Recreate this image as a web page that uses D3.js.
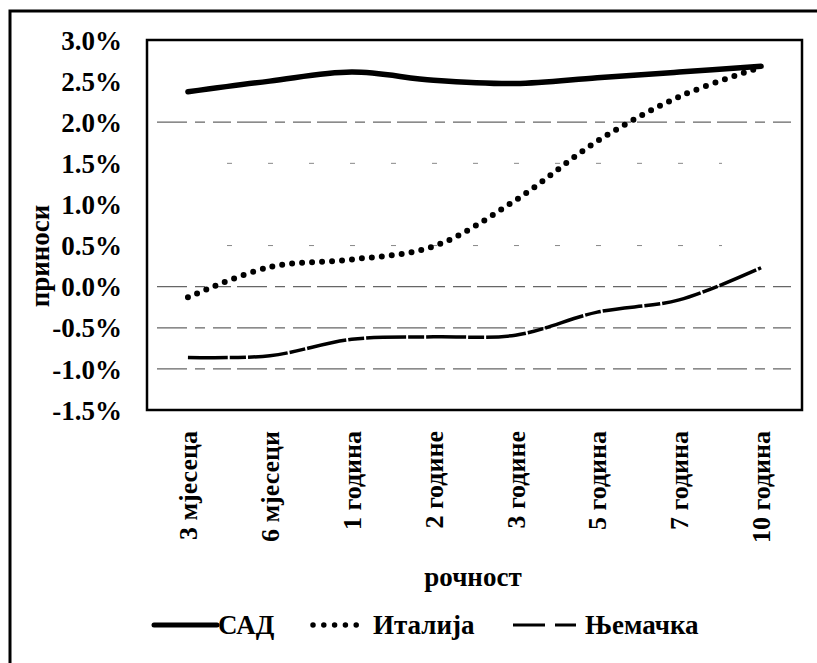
<!DOCTYPE html>
<html lang="sr">
  <head>
    <meta charset="utf-8">
    <title>prinosi</title>
    <script src="https://d3js.org/d3.v7.min.js"></script>
    <style>
      body { margin: 0; background: #fff; overflow: hidden; }
      svg { display: block; }
      text { font-family: "Liberation Serif", "Times New Roman", serif; fill: #000; }
    </style>
  </head>
  <body>
  <script>

  // data (yields in %)
  var maturities = ["3 мјесеца", "6 мјесеци", "1 година", "2 године", "3 године", "5 година", "7 година", "10 година"];
  var usa     = [2.37, 2.50, 2.61, 2.51, 2.47, 2.54, 2.61, 2.68];
  var italy   = [-0.13, 0.24, 0.33, 0.49, 1.05, 1.77, 2.31, 2.67];
  var germany = [-0.86, -0.84, -0.64, -0.61, -0.59, -0.31, -0.16, 0.23];
  var yTicks  = [3.0, 2.5, 2.0, 1.5, 1.0, 0.5, 0.0, -0.5, -1.0, -1.5];
  var seriesNames = ["САД", "Италија", "Њемачка"];

  var w = 817;
  var h = 663;
  var margin = {top: 40, right: 15, bottom: 253, left: 147};
  var innerWidth = w - margin.left - margin.right;
  var innerHeight = h - margin.top - margin.bottom;

  var svg = d3.select("body")
    .append("svg")
      .attr("width", w)
      .attr("height", h);

  // outer frame (cut off at the right and bottom in the scan)
  svg.append("path")
      .attr("d", "M10," + h + " L10,11 L" + w + ",11")
      .attr("fill", "none")
      .attr("stroke", "#000")
      .attr("stroke-width", 3);

  var xScale = d3.scalePoint()
      .domain(maturities)
      .range([0, innerWidth])
      .padding(0.5);

  var yScale = d3.scaleLinear()
      .domain([-1.5, 3.0])
      .range([innerHeight, 0]);

  var g = svg.append("g")
      .attr("transform", `translate(${margin.left}, ${margin.top})`);

  // gridlines, dashed and patchy like the scan
  var strongGrid = [2.0, 0.0, -0.5, -1.0];
  var faintGrid = [1.5, 0.5];

  g.selectAll("line.grid")
    .data(strongGrid)
    .enter().append("line")
      .attr("class", "grid")
      .attr("x1", 10)
      .attr("x2", innerWidth - 8)
      .attr("y1", d => yScale(d))
      .attr("y2", d => yScale(d))
      .attr("stroke", "#666")
      .attr("stroke-width", 1.2)
      .attr("stroke-dasharray", "30,8,10,8,18,6");

  g.selectAll("line.faint")
    .data(faintGrid)
    .enter().append("line")
      .attr("class", "faint")
      .attr("x1", 80)
      .attr("x2", innerWidth - 80)
      .attr("y1", d => yScale(d))
      .attr("y2", d => yScale(d))
      .attr("stroke", "#888")
      .attr("stroke-width", 1)
      .attr("stroke-dasharray", "5,36");

  // y tick labels
  svg.selectAll("text.ytick")
    .data(yTicks)
    .enter().append("text")
      .attr("class", "ytick")
      .attr("x", 122)
      .attr("y", d => margin.top + yScale(d))
      .attr("dy", "0.36em")
      .attr("text-anchor", "end")
      .attr("font-size", 27)
      .attr("font-weight", "bold")
      .text(d => d.toFixed(1) + "%");

  // x tick labels, rotated
  svg.selectAll("text.xtick")
    .data(maturities)
    .enter().append("text")
      .attr("class", "xtick")
      .attr("transform", d => `translate(${margin.left + xScale(d)}, 431) rotate(-90)`)
      .attr("dy", "0.35em")
      .attr("text-anchor", "end")
      .attr("font-size", 26)
      .attr("font-weight", "bold")
      .text(d => d);

  // axis titles
  svg.append("text")
      .attr("transform", "translate(40, 256) rotate(-90)")
      .attr("dy", "0.35em")
      .attr("text-anchor", "middle")
      .attr("font-size", 27)
      .attr("font-weight", "bold")
      .text("приноси");

  svg.append("text")
      .attr("x", 473)
      .attr("y", 586)
      .attr("text-anchor", "middle")
      .attr("font-size", 27)
      .attr("font-weight", "bold")
      .text("рочност");

  // lines
  var line = d3.line()
      .x((d, i) => xScale(maturities[i]))
      .y(d => yScale(d))
      .curve(d3.curveCatmullRom);

  g.append("path")
      .attr("d", line(germany))
      .attr("fill", "none")
      .attr("stroke", "#000")
      .attr("stroke-width", 3.5)
      .attr("stroke-dasharray", "40,2,16,2");

  g.append("path")
      .attr("d", line(italy))
      .attr("fill", "none")
      .attr("stroke", "#000")
      .attr("stroke-width", 6)
      .attr("stroke-linecap", "round")
      .attr("stroke-dasharray", "0,10");

  g.append("path")
      .attr("d", line(usa))
      .attr("fill", "none")
      .attr("stroke", "#000")
      .attr("stroke-width", 5.5)
      .attr("stroke-linecap", "round");

  // plot frame
  g.append("rect")
      .attr("x", 0)
      .attr("y", 0)
      .attr("width", innerWidth)
      .attr("height", innerHeight)
      .attr("fill", "none")
      .attr("stroke", "#000")
      .attr("stroke-width", 2.5);

  // legend
  var legend = svg.append("g").attr("transform", "translate(0, 625)");

  legend.append("line")
      .attr("x1", 154).attr("x2", 217)
      .attr("stroke", "#000").attr("stroke-width", 5)
      .attr("stroke-linecap", "round");
  legend.append("text")
      .attr("x", 218).attr("dy", "0.35em")
      .attr("font-size", 27).attr("font-weight", "bold")
      .text(seriesNames[0]);

  legend.append("line")
      .attr("x1", 313).attr("x2", 367)
      .attr("stroke", "#000").attr("stroke-width", 5.5)
      .attr("stroke-linecap", "round")
      .attr("stroke-dasharray", "0,10.8");
  legend.append("text")
      .attr("x", 373).attr("dy", "0.35em")
      .attr("font-size", 27).attr("font-weight", "bold")
      .text(seriesNames[1]);

  legend.append("line")
      .attr("x1", 513).attr("x2", 576)
      .attr("stroke", "#000").attr("stroke-width", 3)
      .attr("stroke-dasharray", "32,10,21,10");
  legend.append("text")
      .attr("x", 585).attr("dy", "0.35em")
      .attr("font-size", 27).attr("font-weight", "bold")
      .text(seriesNames[2]);

  </script>
  </body>
</html>
